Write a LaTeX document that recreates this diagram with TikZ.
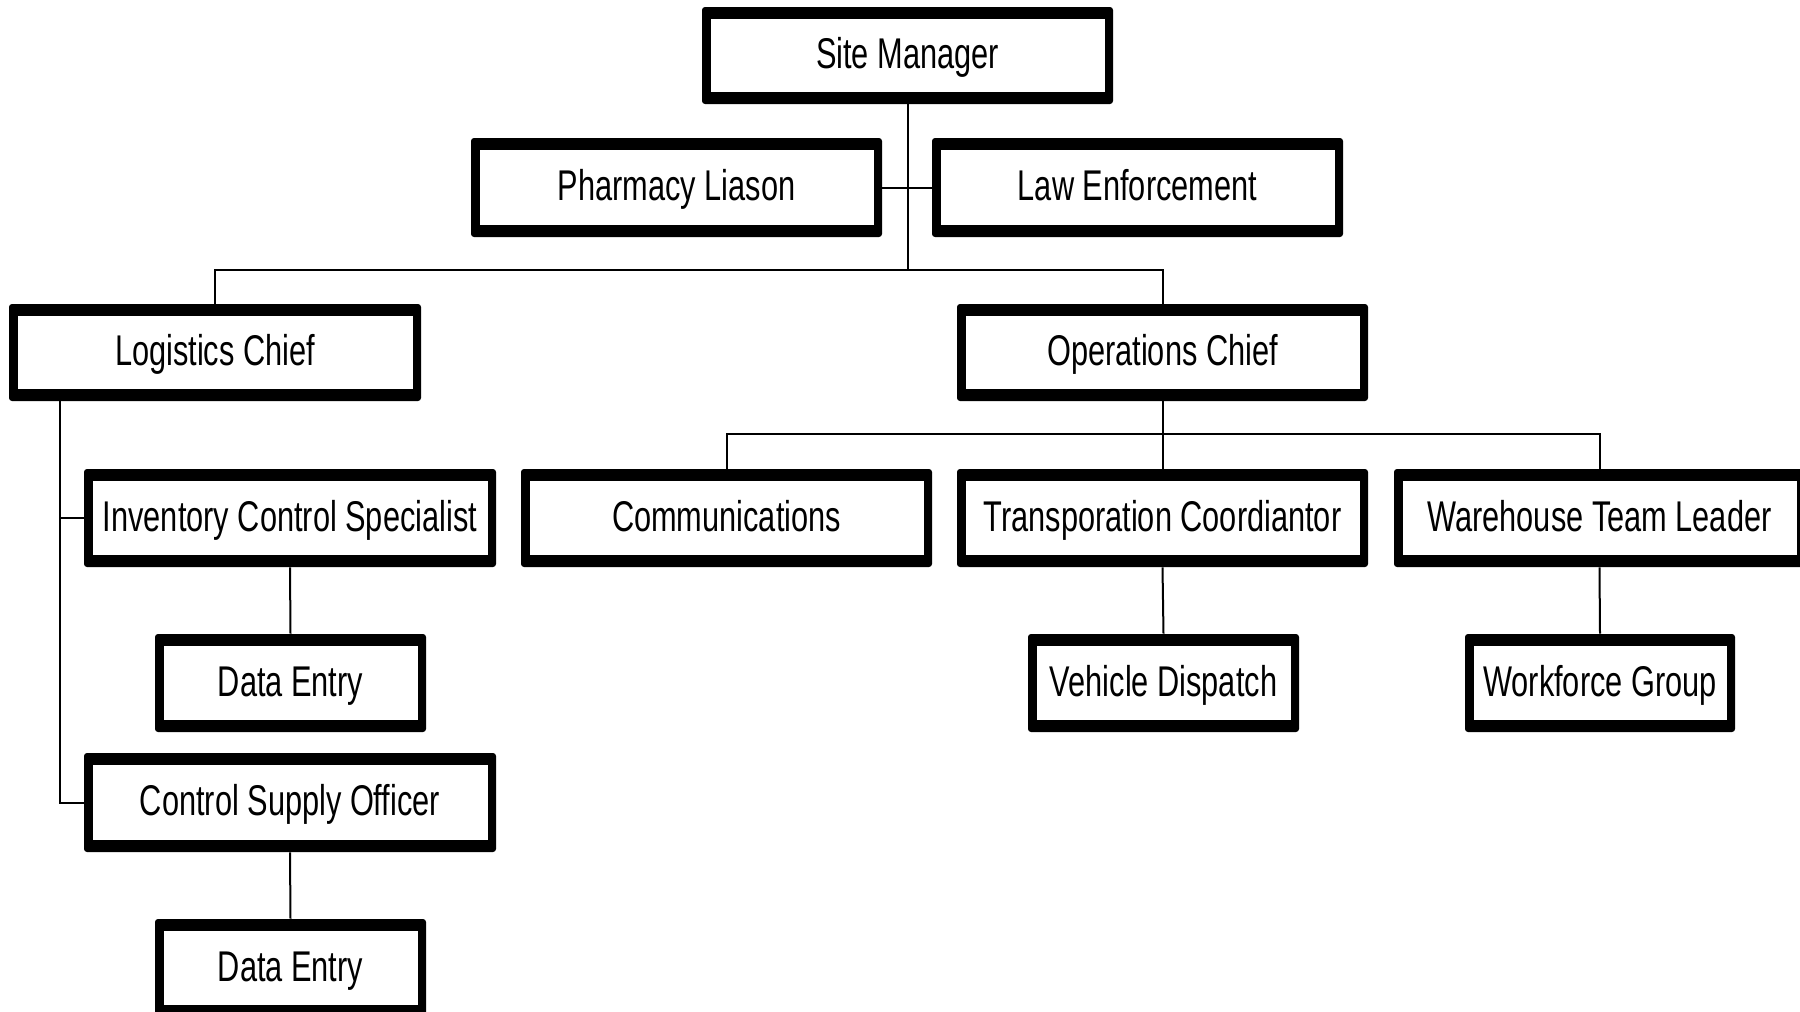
\documentclass[tikz,border=0pt]{standalone}
\usepackage{fontspec}
\setmainfont{Liberation Sans}[FakeStretch=0.715]
\usetikzlibrary{calc}

% one unit = one pixel of a 1800 x 1012 sheet, y grows downwards
\tikzset{
  orgtext/.style={rectangle, inner sep=0pt, align=center,
    font=\fontsize{21.5pt}{24pt}\selectfont,
    text height=15.5pt, text depth=2.5pt},
  link/.style={line width=1pt, black},
}

% \orgunit{name}{x1}{y1}{x2}{y2}{label}: heavy frame, then the titled node
\newcommand\orgunit[6]{%
  \fill[black, rounded corners=1.5pt] (#2,#3) rectangle (#4,#5);
  \fill[white] ({#2+8.5},{#3+12}) rectangle ({#4-8.5},{#5-12});
  \node[orgtext, minimum width={(#4-#2)*0.5pt}, minimum height={(#5-#3)*0.5pt}]
    (#1) at ({(#2+#4)/2},{(#3+#5)/2}) {#6};%
}

\begin{document}
\begin{tikzpicture}[x=0.5pt, y=-0.5pt]
\useasboundingbox (0,0) rectangle (1800,1012);
\fill[white] (0,0) rectangle (1800,1012);

% top level
\orgunit{sm}{702}{7}{1113}{104}{Site Manager}
\orgunit{pl}{471}{138}{882}{237}{Pharmacy Liason}
\orgunit{le}{932}{138}{1343}{237}{Law Enforcement}

% chiefs
\orgunit{log}{9}{304}{421}{401}{Logistics Chief}
\orgunit{ops}{957}{304}{1368}{401}{Operations Chief}

% logistics branch
\orgunit{ics}{84}{469}{496}{567}{Inventory Control Specialist}
\orgunit{de1}{155}{634}{426}{732}{Data Entry}
\orgunit{cso}{84}{753}{496}{852}{Control Supply Officer}
\orgunit{de2}{155}{919}{426}{1017}{Data Entry}

% operations branch
\orgunit{comm}{521}{469}{932}{567}{Communications}
\orgunit{trans}{957}{469}{1368}{567}{Transporation Coordiantor}
\orgunit{ware}{1394}{469}{1805}{567}{Warehouse Team Leader}
\orgunit{veh}{1028}{634}{1299}{732}{Vehicle Dispatch}
\orgunit{work}{1465}{634}{1735}{732}{Workforce Group}

% connectors
\coordinate (bar) at (sm.south |- 0,270);
\coordinate (opsbar) at (ops.south |- 0,434);
\coordinate (ltrunk) at ($(log.south west)+(51,0)$);

\draw[link] (sm.south) -- (bar);
\draw[link] (pl.east) -- (le.west);
\draw[link] (log.north) |- (bar) -| (ops.north);

\draw[link] (ltrunk) |- (ics.west);
\draw[link] (ltrunk) |- (cso.west);
\draw[link] (ics.south) -- (de1.north);
\draw[link] (cso.south) -- (de2.north);

\draw[link] (ops.south) -- (trans.north);
\draw[link] (comm.north) |- (opsbar) -| (ware.north);
\draw[link] (trans.south) -- (veh.north);
\draw[link] (ware.south) -- (work.north);
\end{tikzpicture}
\end{document}
